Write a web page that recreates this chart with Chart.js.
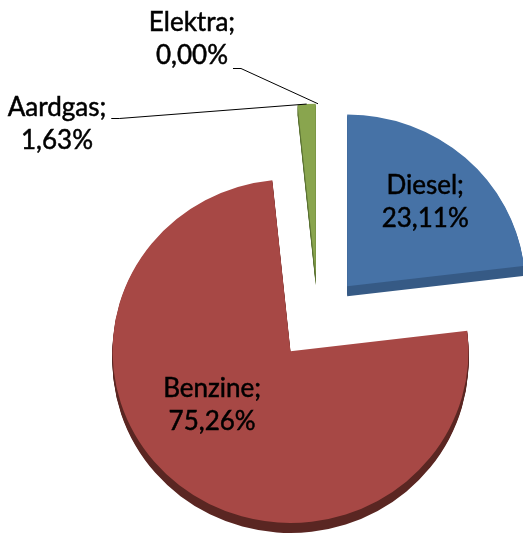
<!DOCTYPE html>
<html>
<head>
<meta charset="utf-8">
<script src="https://cdn.jsdelivr.net/npm/chart.js@4.4.1/dist/chart.umd.min.js"></script>
<style>
  html, body { margin: 0; padding: 0; background: #fff; }
  #wrap { width: 523px; height: 533px; position: relative; }
</style>
</head>
<body>
<div id="wrap"><canvas id="fuelChart"></canvas></div>
<script>
/* Fuel share pie (3D look, exploded) */
const categories = ['Diesel', 'Benzine', 'Aardgas', 'Elektra'];
const shares = [23.11, 75.26, 1.63, 0.00];
const sliceColors = ['#4672A6', '#A74845', '#89A54E', '#7D60A0'];
const sideColors = ['#365A85', '#5A2622', '#5B7233', '#55406E'];

// label placement: inside labels follow the slice, outside ones sit at a spot with a leader line
const labelPlacement = [
  { inside: true, frac: 0.66, turn: 0 },
  { inside: true, frac: 0.54, turn: 16 },
  { inside: false, x: 57, y: 123, leaderLine: 0, leaderDy: 2 },
  { inside: false, x: 192, y: 38, leaderLine: 1, leaderDy: 4 },
];

const EXPLODE = 44;
const DEPTH = 10;
const TILT = 0.965;
const FONT = '26px Lato';

function fmtShare(v) {
  return v.toFixed(2).replace('.', ',') + '%';
}

function tilt(ctx, cx, cy) {
  ctx.translate(cx, cy);
  ctx.scale(1, TILT);
  ctx.translate(-cx, -cy);
}

const pie3d = {
  id: 'pie3d',
  beforeDatasetsDraw(chart) {
    const ctx = chart.ctx;
    const arcs = chart.getDatasetMeta(0).data;
    if (!arcs.length) return;
    const cx = arcs[0].x, cy = arcs[0].y;
    // side walls
    arcs.forEach((arc, i) => {
      if (arc.endAngle - arc.startAngle <= 0) return;
      const mid = (arc.startAngle + arc.endAngle) / 2;
      const ox = cx + Math.cos(mid) * EXPLODE, oy = cy + Math.sin(mid) * EXPLODE;
      ctx.fillStyle = sideColors[i];
      for (let s = 1; s <= DEPTH; s++) {
        ctx.save();
        ctx.translate(0, s);
        tilt(ctx, cx, cy);
        ctx.beginPath();
        ctx.moveTo(ox, oy);
        ctx.arc(ox, oy, arc.outerRadius, arc.startAngle, arc.endAngle);
        ctx.closePath();
        ctx.fill();
        ctx.restore();
      }
    });
    // top faces
    arcs.forEach(arc => {
      const mid = (arc.startAngle + arc.endAngle) / 2;
      ctx.save();
      tilt(ctx, cx, cy);
      ctx.translate(Math.cos(mid) * EXPLODE, Math.sin(mid) * EXPLODE);
      arc.draw(ctx);
      ctx.restore();
    });
    return false;
  }
};

const sliceLabels = {
  id: 'sliceLabels',
  afterDraw(chart) {
    const ctx = chart.ctx;
    const arcs = chart.getDatasetMeta(0).data;
    ctx.save();
    ctx.font = FONT;
    ctx.fillStyle = '#000';
    ctx.strokeStyle = '#000';
    ctx.textAlign = 'center';
    ctx.textBaseline = 'alphabetic';
    arcs.forEach((arc, i) => {
      const lines = [categories[i] + ';', fmtShare(shares[i])];
      const place = labelPlacement[i];
      const mid = (arc.startAngle + arc.endAngle) / 2;
      let bx, by;
      if (place.inside) {
        const vx = arc.x + Math.cos(mid) * EXPLODE;
        const vy = arc.y + Math.sin(mid) * EXPLODE * TILT;
        const a = mid + place.turn * Math.PI / 180;
        const r = arc.outerRadius * place.frac;
        bx = vx + Math.cos(a) * r;
        by = vy + Math.sin(a) * r * TILT;
      } else {
        bx = place.x;
        by = place.y;
      }
      const base = [by - 7.5, by + 25.5];
      ctx.lineWidth = 0.5;
      lines.forEach((t, k) => {
        ctx.fillText(t, bx, base[k]);
        ctx.strokeText(t, bx, base[k]);
      });
      if (!place.inside) {
        const w = ctx.measureText(lines[place.leaderLine]).width;
        const sx = bx + w / 2 + 5;
        const sy = Math.round(base[place.leaderLine] + place.leaderDy) + 0.5;
        const ex = arc.x + Math.cos(mid) * (EXPLODE + arc.outerRadius);
        const ey = arc.y + Math.sin(mid) * (EXPLODE + arc.outerRadius) * TILT;
        ctx.lineWidth = 1;
        ctx.beginPath();
        ctx.moveTo(sx, sy);
        ctx.lineTo(sx + 8, sy);
        ctx.lineTo(ex, ey);
        ctx.stroke();
      }
    });
    ctx.restore();
  }
};

new Chart(document.getElementById('fuelChart'), {
  type: 'pie',
  data: {
    labels: categories,
    datasets: [{ data: shares, backgroundColor: sliceColors, borderWidth: 0 }]
  },
  options: {
    responsive: true,
    maintainAspectRatio: false,
    animation: false,
    radius: 178,
    layout: { padding: { left: 113, top: 103, right: 0, bottom: 0 } },
    plugins: { legend: { display: false }, tooltip: { enabled: false } }
  },
  plugins: [pie3d, sliceLabels]
});
</script>
</body>
</html>
